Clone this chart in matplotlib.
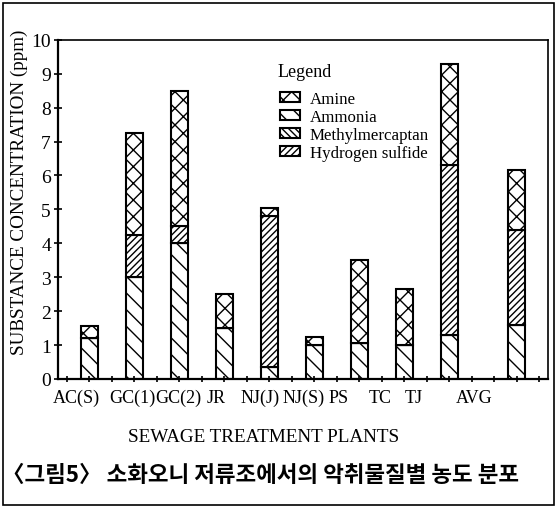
import numpy as np
import matplotlib
matplotlib.use("Agg")
import matplotlib.pyplot as plt
from matplotlib.patches import Rectangle

plants = ["AC(S)", "GC(1)", "GC(2)", "JR", "NJ(J)", "NJ(S)", "PS", "TC", "TJ", "AVG"]
pos = [1, 2, 3, 4, 5, 6, 7, 8, 9, 10.5]
# label positions are drifted left in the original print
label_pos = [0.71, 1.95, 2.97, 3.81, 4.8, 5.76, 6.53, 7.46, 8.21, 9.56]
ammonia = [1.2, 3.0, 4.0, 1.5, 0.35, 1.0, 1.05, 1.0, 1.3, 1.6]
methylmercaptan = [0, 0, 0, 0, 0, 0, 0, 0, 0, 0]
h2s = [0, 1.25, 0.5, 0, 4.45, 0, 0, 0, 5.0, 2.8]
amine = [0.35, 3.0, 4.0, 1.0, 0.25, 0.25, 2.45, 1.65, 3.0, 1.75]

plt.rcParams["font.family"] = ["Liberation Serif", "DejaVu Serif"]
plt.rcParams["hatch.linewidth"] = 1.0

fig = plt.figure(figsize=(5.57, 5.10), dpi=100)
ax = fig.add_axes([0.104, 0.255, 0.880, 0.665])

w = 0.38
kw = dict(width=w, edgecolor="black", facecolor="white", linewidth=1.5)
bottom = np.zeros(len(pos))
ax.bar(pos, ammonia, bottom=bottom, hatch="\\\\", label="Ammonia", **kw)
bottom += ammonia
ax.bar(pos, methylmercaptan, bottom=bottom, hatch="\\\\\\\\\\", label="Methylmercaptan", **kw)
bottom += methylmercaptan
ax.bar(pos, h2s, bottom=bottom, hatch="/////", label="Hydrogen sulfide", **kw)
bottom += h2s
ax.bar(pos, amine, bottom=bottom, hatch="xx", label="Amine", **kw)

ax.set_xlim(0.3, 11.2)
ax.set_ylim(0, 10)
ax.set_xticks(label_pos)
ax.set_xticklabels(plants, fontsize=13)
ax.set_xticks(np.arange(0.5, 11.01, 0.5), minor=True)
ax.tick_params(axis="x", which="major", length=0, pad=7)
ax.tick_params(axis="x", which="minor", length=5, width=1.2, direction="inout")
ax.set_yticks(range(11))
ax.tick_params(axis="y", length=6, width=1.2, direction="inout", labelsize=14, pad=2)
for s in ax.spines.values():
    s.set_linewidth(1.2)
ax.spines["left"].set_linewidth(1.6)
ax.spines["bottom"].set_linewidth(1.6)

ax.set_ylabel("SUBSTANCE CONCENTRATION (ppm)", fontsize=13.8)
ax.yaxis.set_label_coords(-0.062, 0.553)
ax.set_xlabel("SEWAGE TREATMENT PLANTS", fontsize=13.8)
ax.xaxis.set_label_coords(0.42, -0.145)

ax.text(0.447, 0.906, "Legend", transform=ax.transAxes, fontsize=13, va="center", ha="left")
h, l = ax.get_legend_handles_labels()
order = [3, 0, 1, 2]
ax.legend([h[i] for i in order], [l[i] for i in order],
          loc="upper left", bbox_to_anchor=(0.453, 0.850), frameon=False,
          fontsize=12.2, handlelength=1.2, handleheight=0.55, borderpad=0,
          handletextpad=0.55, labelspacing=0.12, borderaxespad=0)

fig.text(0.004, 0.056, "〈그림5〉 소화오니 저류조에서의 악취물질별 농도 분포",
         fontsize=16.2, fontweight="bold", family=["Noto Sans CJK KR"], ha="left")

fig.patches.append(Rectangle((0.006, 0.008), 0.988, 0.985, transform=fig.transFigure,
                             fill=False, edgecolor="black", linewidth=1.2))

fig.savefig("out.png", dpi=100)
